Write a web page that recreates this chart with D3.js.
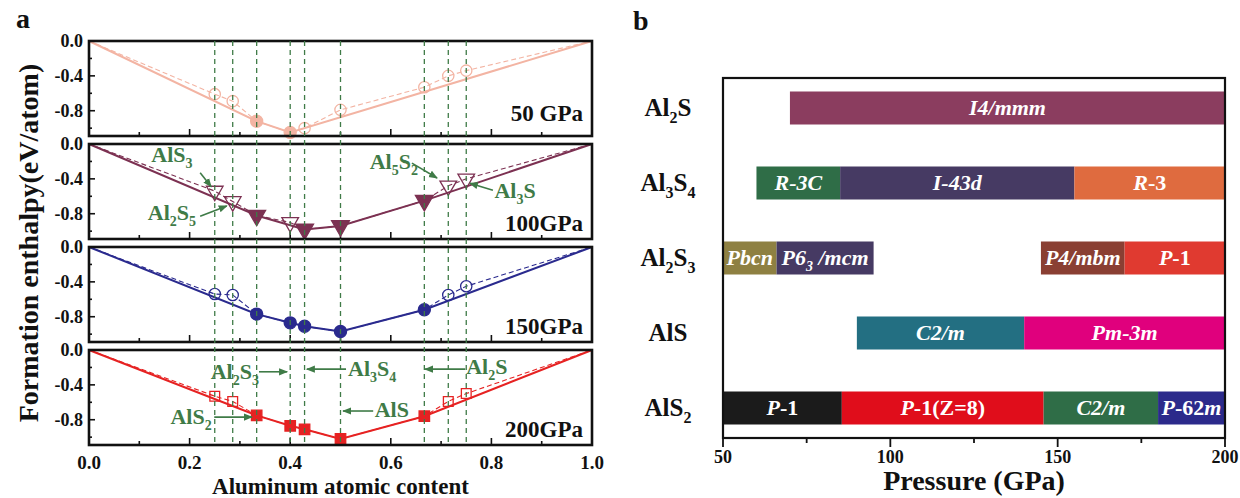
<!DOCTYPE html>
<html>
<head>
<meta charset="utf-8">
<script src="https://cdn.jsdelivr.net/npm/d3@7"></script>
<style>
  body { margin: 0; background: #fff; }
  svg { display: block; font-family: "Liberation Serif", "Times New Roman", serif; font-weight: bold; }
</style>
</head>
<body>
<svg id="chart" width="1240" height="498"></svg>
<script>
// ---- panel a data ----
const composition = [0.25, 2/7, 1/3, 0.4, 3/7, 0.5, 2/3, 5/7, 0.75];
const pressureLabels = ["50 GPa", "100GPa", "150GPa", "200GPa"];
const enthalpy50  = [-0.61, -0.69, -0.92, -1.05, -1.00, -0.79, -0.53, -0.40, -0.34];
const enthalpy100 = [-0.54, -0.66, -0.82, -0.90, -0.98, -0.94, -0.65, -0.48, -0.40];
const enthalpy150 = [-0.54, -0.55, -0.77, -0.87, -0.91, -0.97, -0.72, -0.55, -0.45];
const enthalpy200 = [-0.53, -0.59, -0.75, -0.87, -0.91, -1.02, -0.76, -0.59, -0.50];
const stable50  = [0, 0, 1, 1, 0, 0, 0, 0, 0];
const stable100 = [0, 0, 1, 0, 1, 1, 1, 0, 0];
const stable150 = [0, 0, 1, 1, 1, 1, 1, 0, 0];
const stable200 = [0, 0, 1, 1, 1, 1, 1, 0, 0];
const xTicksA = [0, 0.2, 0.4, 0.6, 0.8, 1.0];
const yTicksA = [0, -0.4, -0.8];

// annotations: label, text pos (x, y), arrow from (x, y) to (x, y) in data units
const annot100 = [
  ["AlS_3",  0.165, -0.21, 0.221, -0.33, 0.243, -0.49],
  ["Al_2S_5", 0.165, -0.87, 0.221, -0.83, 0.274, -0.71],
  ["Al_5S_2", 0.606, -0.29, 0.642, -0.22, 0.692, -0.39],
  ["Al_3S",  0.847, -0.62, 0.803, -0.53, 0.757, -0.45]
];
const annot200 = [
  ["Al_2S_3", 0.290, -0.33, 0.338, -0.25, 0.394, -0.25],
  ["AlS_2",  0.203, -0.85, 0.249, -0.77, 0.324, -0.77],
  ["Al_3S_4", 0.563, -0.30, 0.511, -0.22, 0.433, -0.22],
  ["AlS",    0.602, -0.77, 0.565, -0.70, 0.505, -0.70],
  ["Al_2S",  0.791, -0.28, 0.748, -0.22, 0.668, -0.22]
];

// ---- panel b data ----
const compounds = ["Al_2S", "Al_3S_4", "Al_2S_3", "AlS", "AlS_2"];
const segCompound = ["Al_2S", "Al_3S_4", "Al_3S_4", "Al_3S_4", "Al_2S_3", "Al_2S_3", "Al_2S_3", "Al_2S_3",
                     "AlS", "AlS", "AlS_2", "AlS_2", "AlS_2", "AlS_2"];
const segStart = [70, 60, 85, 155, 50, 66, 145, 170, 90, 140, 50, 85.5, 145.8, 180];
const segEnd   = [200, 85, 155, 200, 66, 95, 170, 200, 140, 200, 85.5, 145.8, 180, 200];
const segName  = ["I4/mmm", "R-3C", "I-43d", "R{-3}", "Pbcn", "P6_3 /mcm", "P4/mbm", "P{-1}",
                  "C2/m", "Pm-3m", "P{-1}", "P{-1(Z=8)}", "C2/m", "P{-62}m"];
const segColor = ["#8b3d5f", "#2f6d47", "#463a63", "#df6b3f", "#8e8042", "#463a63", "#8a3f33", "#e03a30",
                  "#236f82", "#e0007d", "#1b1b1b", "#e00d1b", "#2f6d47", "#2b2a8b"];
const pressureTicks = [50, 100, 150, 200];

// ---- styles ----
const seriesColor = ["#f3b4a3", "#7c3152", "#2a2a8e", "#e62222"];
const green = "#3f7b47";

const svg = d3.select("#chart");

// rich text: "_d" subscript, "{...}" upright inside italic text
function rich(textSel, str, italic, subSize, subShift) {
  let runs = [], upright = false;
  for (let i = 0; i < str.length; i++) {
    const c = str[i];
    if (c === "{") { upright = true; continue; }
    if (c === "}") { upright = false; continue; }
    if (c === "_") { runs.push({t: str[i + 1], sub: true, up: upright}); i++; continue; }
    const last = runs[runs.length - 1];
    if (last && !last.sub && last.up === upright) last.t += c;
    else runs.push({t: c, sub: false, up: upright});
  }
  let shift = 0;
  runs.forEach(r => {
    const target = r.sub ? subShift : 0;
    const ts = textSel.append("tspan").text(r.t).attr("dy", target - shift);
    shift = target;
    if (r.sub) ts.attr("font-size", subSize);
    ts.attr("font-style", italic && !r.up ? "italic" : "normal");
  });
}

// ================= panel a =================
const xA = d3.scaleLinear().domain([0, 1]).range([89, 592]);
const panelH = 95, panelStep = 103, panelTop0 = 41;
const allSeries = [
  {h: enthalpy50, s: stable50, shape: "circle"},
  {h: enthalpy100, s: stable100, shape: "triangle"},
  {h: enthalpy150, s: stable150, shape: "circle"},
  {h: enthalpy200, s: stable200, shape: "square"}
];

const gA = svg.append("g").attr("class", "panel_a");

allSeries.forEach((ser, k) => {
  const top = panelTop0 + k * panelStep;
  const y = d3.scaleLinear().domain([-1.09, 0]).range([top + panelH, top]);
  ser.y = y;
  const g = gA.append("g").attr("class", "sub_panel");
  g.append("rect").attr("x", xA(0)).attr("y", top).attr("width", xA(1) - xA(0)).attr("height", panelH)
    .attr("fill", "white").attr("stroke", "none");

  // y ticks (inward)
  d3.range(0, -1.01, -0.2).forEach((v, i) => {
    g.append("line").attr("x1", xA(0)).attr("x2", xA(0) + (i % 2 ? 3 : 6))
      .attr("y1", y(v)).attr("y2", y(v)).attr("stroke", "#111").attr("stroke-width", 1.6);
  });
  yTicksA.forEach(v => {
    g.append("text").attr("x", 83).attr("y", y(v) + 6).attr("text-anchor", "end")
      .attr("font-size", 18).attr("fill", "#111").text(v.toFixed(1));
  });
  // x ticks (inward from bottom)
  d3.range(0, 11).forEach(i => {
    const v = i / 10;
    if (i === 0 || i === 10) return;
    g.append("line").attr("x1", xA(v)).attr("x2", xA(v))
      .attr("y1", top + panelH).attr("y2", top + panelH - (i % 2 ? 4 : 7))
      .attr("stroke", "#111").attr("stroke-width", 1.6);
  });
  ser.g = g;
  ser.top = top;
});

// vertical green dashed guides
gA.append("g").selectAll("line").data(composition).join("line")
  .attr("x1", d => xA(d)).attr("x2", d => xA(d))
  .attr("y1", panelTop0).attr("y2", panelTop0 + 3 * panelStep + panelH)
  .attr("stroke", green).attr("stroke-width", 1.3).attr("stroke-dasharray", "5,4");

allSeries.forEach((ser, k) => {
  const g = ser.g, y = ser.y, col = seriesColor[k];
  const pts = composition.map((c, i) => ({x: c, h: ser.h[i], st: ser.s[i]}));
  const allPts = [{x: 0, h: 0}].concat(pts, [{x: 1, h: 0}]);
  const hull = [{x: 0, h: 0}].concat(pts.filter(p => p.st), [{x: 1, h: 0}]);
  const line = d3.line().x(d => xA(d.x)).y(d => y(d.h));
  g.append("path").attr("d", line(allPts)).attr("fill", "none").attr("stroke", col)
    .attr("stroke-width", 1.1).attr("stroke-dasharray", "5,3");
  g.append("path").attr("d", line(hull)).attr("fill", "none").attr("stroke", col).attr("stroke-width", 2);

  const symType = ser.shape === "square" ? d3.symbolSquare : ser.shape === "triangle" ? d3.symbolTriangle : d3.symbolCircle;
  const sz = ser.shape === "square" ? 95 : ser.shape === "triangle" ? 120 : 100;
  g.selectAll(".pt").data(pts).join("path").attr("class", "pt")
    .attr("d", d => d3.symbol().type(symType).size(d.st ? sz * 1.15 : sz)())
    .attr("transform", d => "translate(" + xA(d.x) + "," + y(d.h) + ")" + (ser.shape === "triangle" ? " rotate(180)" : ""))
    .attr("fill", d => d.st ? col : "none")
    .attr("stroke", col).attr("stroke-width", 1.3);

  // frame
  g.append("rect").attr("x", xA(0)).attr("y", ser.top).attr("width", xA(1) - xA(0)).attr("height", panelH)
    .attr("fill", "none").attr("stroke", "#111").attr("stroke-width", 2.6);

  g.append("text").attr("x", 583).attr("y", ser.top + (k === 0 ? 80 : 87))
    .attr("text-anchor", "end").attr("font-size", 23).attr("fill", "#111").text(pressureLabels[k]);
});

// arrow marker
const defs = svg.append("defs");
defs.append("marker").attr("id", "arrowG").attr("viewBox", "0 0 10 10").attr("refX", 9).attr("refY", 5)
  .attr("markerWidth", 9).attr("markerHeight", 9).attr("markerUnits", "userSpaceOnUse").attr("orient", "auto")
  .append("path").attr("d", "M0,1 L10,5 L0,9 Z").attr("fill", green);

function drawAnnot(list, k) {
  const y = allSeries[k].y, g = allSeries[k].g;
  list.forEach(a => {
    const t = g.append("text").attr("x", xA(a[1])).attr("y", y(a[2])).attr("text-anchor", "middle")
      .attr("font-size", 22).attr("fill", green);
    rich(t, a[0], false, 14, 6);
    g.append("line").attr("x1", xA(a[3])).attr("y1", y(a[4])).attr("x2", xA(a[5])).attr("y2", y(a[6]))
      .attr("stroke", green).attr("stroke-width", 1.6).attr("marker-end", "url(#arrowG)");
  });
}
drawAnnot(annot100, 1);
drawAnnot(annot200, 3);

// x tick labels and titles
const bottomA = panelTop0 + 3 * panelStep + panelH;
gA.selectAll(".xlab").data(xTicksA).join("text").attr("class", "xlab")
  .attr("x", d => xA(d)).attr("y", bottomA + 24).attr("text-anchor", "middle")
  .attr("font-size", 19).attr("fill", "#111").text(d => d.toFixed(1));
gA.append("text").attr("x", (xA(0) + xA(1)) / 2).attr("y", 494).attr("text-anchor", "middle")
  .attr("font-size", 23).attr("fill", "#111").text("Aluminum atomic content");
gA.append("text").attr("transform", "translate(38," + ((panelTop0 + bottomA) / 2) + ") rotate(-90)")
  .attr("text-anchor", "middle").attr("font-size", 28).attr("fill", "#111").text("Formation enthalpy(eV/atom)");
svg.append("text").attr("x", 16).attr("y", 28).attr("font-size", 28).attr("fill", "#111").text("a");

// ================= panel b =================
const xB = d3.scaleLinear().domain([50, 200]).range([723, 1225]);
const yB = d3.scalePoint().domain(compounds).range([108, 408]);
const barH = 33;
const frameTop = 78, frameBottom = 438;
const gB = svg.append("g").attr("class", "panel_b");

const segs = segName.map((n, i) => ({c: segCompound[i], a: segStart[i], b: segEnd[i], n: n, col: segColor[i]}));
gB.selectAll(".seg").data(segs).join("rect").attr("class", "seg")
  .attr("x", d => xB(d.a)).attr("width", d => xB(d.b) - xB(d.a))
  .attr("y", d => yB(d.c) - barH / 2).attr("height", barH).attr("fill", d => d.col);
gB.selectAll(".segl").data(segs).join("text").attr("class", "segl")
  .attr("x", d => (xB(d.a) + xB(d.b)) / 2).attr("y", d => yB(d.c) + 7).attr("text-anchor", "middle")
  .attr("font-size", 22).attr("fill", "white")
  .each(function(d) { rich(d3.select(this), d.n, true, 14, 6); });

gB.append("rect").attr("x", xB(50)).attr("y", frameTop).attr("width", xB(200) - xB(50))
  .attr("height", frameBottom - frameTop).attr("fill", "none").attr("stroke", "#111").attr("stroke-width", 2.2);

d3.range(50, 201, 25).forEach(v => {
  gB.append("line").attr("x1", xB(v)).attr("x2", xB(v)).attr("y1", frameBottom)
    .attr("y2", frameBottom + (v % 50 ? 5 : 9)).attr("stroke", "#111").attr("stroke-width", 1.8);
});
gB.selectAll(".xl").data(pressureTicks).join("text").attr("class", "xl")
  .attr("x", d => xB(d)).attr("y", frameBottom + 25).attr("text-anchor", "middle")
  .attr("font-size", 18).attr("fill", "#111").text(d => d);
gB.append("text").attr("x", (xB(50) + xB(200)) / 2).attr("y", 490).attr("text-anchor", "middle")
  .attr("font-size", 28).attr("fill", "#111").text("Pressure (GPa)");

compounds.forEach(c => {
  const t = gB.append("text").attr("x", 668).attr("y", yB(c) + 8).attr("text-anchor", "middle")
    .attr("font-size", 25).attr("fill", "#111");
  rich(t, c, false, 16, 7);
});
svg.append("text").attr("x", 633).attr("y", 30).attr("font-size", 28).attr("fill", "#111").text("b");
</script>
</body>
</html>
